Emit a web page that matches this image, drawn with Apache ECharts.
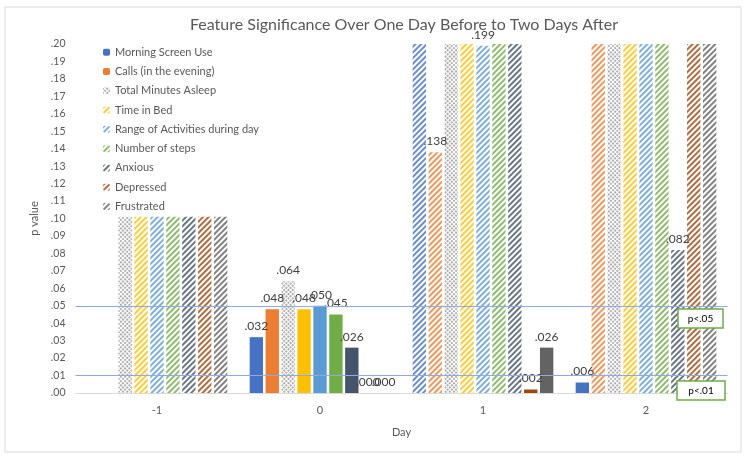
<!DOCTYPE html>
<html>
<head>
<meta charset="utf-8">
<script src="https://cdn.jsdelivr.net/npm/echarts@6/dist/echarts.min.js"></script>
<style>html,body{margin:0;padding:0;background:#fff}#c{width:750px;height:456px}</style>
</head>
<body>
<div id="c"></div>
<script>
// ---- data ----
const days = ['-1', '0', '1', '2'];
const seriesNames = ['Morning Screen Use', 'Calls (in the evening)', 'Total Minutes Asleep', 'Time in Bed',
  'Range of Activities during day', 'Number of steps', 'Anxious', 'Depressed', 'Frustrated'];
const morningScreenUse = [null, 0.032, 0.200, 0.006];
const callsEvening     = [null, 0.048, 0.138, 0.200];
const totalMinAsleep   = [0.101, 0.064, 0.200, 0.200];
const timeInBed        = [0.101, 0.048, 0.200, 0.200];
const rangeActivities  = [0.101, 0.050, 0.199, 0.200];
const numberOfSteps    = [0.101, 0.045, 0.200, 0.200];
const anxious          = [0.101, 0.026, 0.200, 0.082];
const depressed        = [0.101, 0.000, 0.002, 0.200];
const frustrated       = [0.101, 0.000, 0.026, 0.200];
// 1 = significant (solid bar), 0 = not significant (patterned bar)
const sigMorning   = [0, 1, 0, 1];
const sigCalls     = [0, 1, 0, 0];
const sigAsleep    = [0, 0, 0, 0];
const sigBed       = [0, 1, 0, 0];
const sigRange     = [0, 1, 0, 0];
const sigSteps     = [0, 1, 0, 0];
const sigAnxious   = [0, 1, 0, 0];
const sigDepressed = [0, 1, 1, 0];
const sigFrustrated= [0, 1, 1, 0];
// show value label
const lblMorning   = [0, 1, 0, 1];
const lblCalls     = [0, 1, 1, 0];
const lblAsleep    = [0, 1, 0, 0];
const lblBed       = [0, 1, 0, 0];
const lblRange     = [0, 1, 1, 0];
const lblSteps     = [0, 1, 0, 0];
const lblAnxious   = [0, 1, 0, 1];
const lblDepressed = [0, 1, 1, 0];
const lblFrustrated= [0, 1, 1, 0];
const yTicks = { min: 0, max: 0.20, interval: 0.01 };
const thresholds = [0.05, 0.0087];

const values = [morningScreenUse, callsEvening, totalMinAsleep, timeInBed, rangeActivities, numberOfSteps, anxious, depressed, frustrated];
const sigs = [sigMorning, sigCalls, sigAsleep, sigBed, sigRange, sigSteps, sigAnxious, sigDepressed, sigFrustrated];
const lbls = [lblMorning, lblCalls, lblAsleep, lblBed, lblRange, lblSteps, lblAnxious, lblDepressed, lblFrustrated];
const colors = ['#4472c4', '#ed7d31', '#a5a5a5', '#ffc000', '#5b9bd5', '#70ad47', '#44546a', '#9e480e', '#636363'];

const FONT = 'Lato, "Open Sans", sans-serif';
const fmt = v => v.toFixed(3).replace(/^0/, '');

function fade(c, a) {
  const n = parseInt(c.slice(1), 16);
  return 'rgba(' + (n >> 16) + ',' + ((n >> 8) & 255) + ',' + (n & 255) + ',' + a + ')';
}
function hatch(c) {
  return { symbol: 'rect', symbolSize: 1, color: fade(c, 0.8), dashArrayX: [1, 0], dashArrayY: [1.1, 1.9], rotation: -Math.PI / 4 };
}
function cross(c) {
  return { symbol: 'rect', symbolSize: 1, color: fade(c, 0.9), dashArrayX: [1.4, 1], dashArrayY: [1.4, 1], rotation: Math.PI / 4 };
}
function solidDecal() {
  return { symbol: 'rect', symbolSize: 1, color: 'rgba(0,0,0,0)', dashArrayX: [1, 0], dashArrayY: [1, 0] };
}

const series = seriesNames.map((name, si) => {
  const c = colors[si];
  const pat = si === 2 ? cross(c) : hatch(c);
  const data = values[si].map((v, di) => {
    if (v === null) return null;
    const solid = sigs[si][di] === 1;
    return {
      value: v,
      itemStyle: solid ? { color: c, decal: solidDecal() } : { color: '#ffffff', decal: pat },
      label: { show: lbls[si][di] === 1 }
    };
  });
  const s = {
    name, type: 'bar', data,
    barCategoryGap: '13.7%', barGap: '19%',
    itemStyle: si < 2 ? { color: c } : { color: '#ffffff', decal: pat },
    label: { show: false, position: 'top', distance: 5, color: '#404040', fontSize: 12, fontFamily: FONT, formatter: p => fmt(p.value) },
    emphasis: { disabled: true }
  };
  if (si === 0) {
    s.markLine = {
      silent: true, symbol: 'none', label: { show: false },
      lineStyle: { color: '#8faadc', width: 1.2, type: 'solid' },
      data: thresholds.map(t => ({ yAxis: t }))
    };
  }
  return s;
});

const chart = echarts.init(document.getElementById('c'), null, { renderer: 'canvas' });
chart.setOption({
  backgroundColor: '#fff',
  animation: false,
  title: {
    text: 'Feature Significance Over One Day Before to Two Days After',
    left: 399, textAlign: 'center', top: 12,
    textStyle: { fontFamily: FONT, fontSize: 16, fontWeight: 'normal', color: '#595959' }
  },
  legend: {
    orient: 'vertical', left: 103, top: 45, padding: 0,
    itemWidth: 7, itemHeight: 7, itemGap: 5,
    textStyle: { fontFamily: FONT, fontSize: 11, color: '#595959', lineHeight: 14.3 },
    data: seriesNames
  },
  grid: { left: 75.5, right: 22.5, top: 44, bottom: 63, containLabel: false },
  xAxis: {
    type: 'category', data: days,
    name: 'Day', nameLocation: 'middle', nameGap: 34,
    nameTextStyle: { fontFamily: FONT, fontSize: 11, color: '#595959' },
    axisLine: { lineStyle: { color: '#d9d9d9' } },
    axisTick: { show: false },
    axisLabel: { fontFamily: FONT, fontSize: 11, color: '#595959', margin: 12 }
  },
  yAxis: {
    type: 'value', min: yTicks.min, max: yTicks.max, interval: yTicks.interval,
    name: 'p value', nameLocation: 'middle', nameGap: 36, nameRotate: 90,
    nameTextStyle: { fontFamily: FONT, fontSize: 11, color: '#595959' },
    axisLine: { show: false }, axisTick: { show: false },
    splitLine: { show: false },
    axisLabel: { fontFamily: FONT, fontSize: 10.5, color: '#595959', margin: 10, formatter: v => v.toFixed(2).replace(/^0/, '') }
  },
  series,
  graphic: [
    { type: 'rect', shape: { x: 5, y: 7, width: 736, height: 445 }, style: { fill: 'none', stroke: '#d9d9d9', lineWidth: 1 }, silent: true, z: -1 },
    { type: 'rect', shape: { x: 678, y: 309, width: 45, height: 19 }, style: { fill: '#fff', stroke: '#70ad47', lineWidth: 1.5 }, z: 100 },
    { type: 'text', x: 700.5, y: 318.5, style: { text: 'p<.05', fontFamily: FONT, fontSize: 10, fill: '#000', align: 'center', verticalAlign: 'middle' }, z: 101 },
    { type: 'rect', shape: { x: 677, y: 381, width: 48, height: 19 }, style: { fill: '#fff', stroke: '#70ad47', lineWidth: 1.5 }, z: 100 },
    { type: 'text', x: 701, y: 390.5, style: { text: 'p<.01', fontFamily: FONT, fontSize: 10, fill: '#000', align: 'center', verticalAlign: 'middle' }, z: 101 }
  ]
});
</script>
</body>
</html>
